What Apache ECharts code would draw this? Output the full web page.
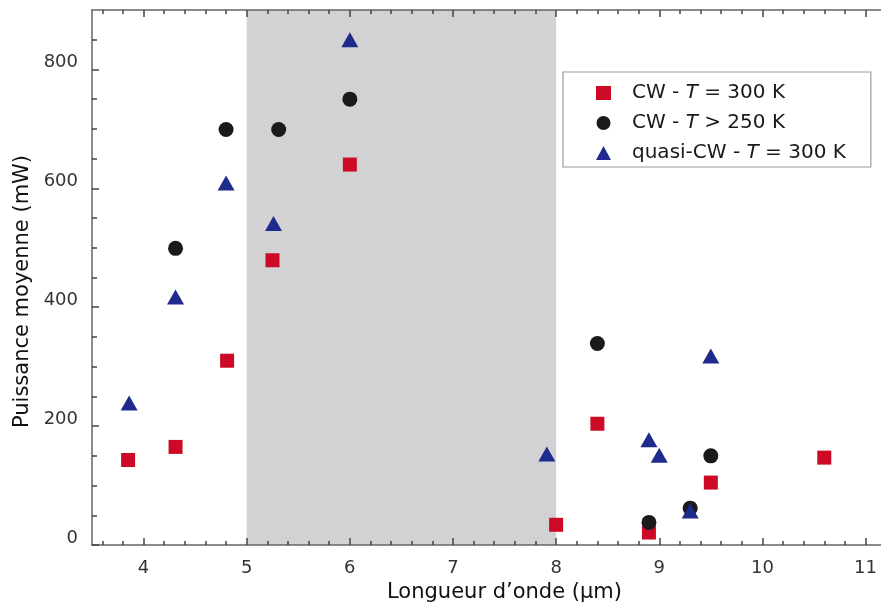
<!DOCTYPE html>
<html>
<head>
<meta charset="utf-8">
<script src="https://cdn.jsdelivr.net/npm/echarts@6/dist/echarts.min.js"></script>
<style>
  html, body { margin: 0; padding: 0; background: #ffffff; }
  #chart { width: 881px; height: 608px; }
</style>
</head>
<body>
<div id="chart"></div>
<script>
// ---- data ----
const seriesNames = ['CW - T = 300 K', 'CW - T > 250 K', 'quasi-CW - T = 300 K'];

const cw300X = [3.85, 4.31, 4.81, 5.25, 6.0, 8.0, 8.4, 8.9, 9.5, 10.6];
const cw300Y = [143, 165, 310, 479, 640, 34, 204, 21, 105, 147];

const cw250X = [4.31, 4.8, 5.31, 6.0, 8.4, 8.9, 9.3, 9.5];
const cw250Y = [499, 699, 699, 750, 339, 38, 62, 150];

const qcwX = [3.86, 4.31, 4.8, 5.26, 6.0, 7.91, 8.9, 9.0, 9.3, 9.5];
const qcwY = [239, 417, 609, 541, 850, 153, 177, 151, 57, 318];

const shadedRange = [5, 8];

const xMajorTicks = [4, 5, 6, 7, 8, 9, 10, 11];
const xMinorTicks = [3.6, 3.8, 4.2, 4.4, 4.6, 4.8, 5.2, 5.4, 5.6, 5.8, 6.2, 6.4, 6.6, 6.8,
  7.2, 7.4, 7.6, 7.8, 8.2, 8.4, 8.6, 8.8, 9.2, 9.4, 9.6, 9.8, 10.2, 10.4, 10.6, 10.8];
const yMajorTicks = [0, 200, 400, 600, 800];
const yMinorTicks = [50, 100, 150, 250, 300, 350, 450, 500, 550, 650, 700, 750, 850];

const xMin = 3.5, xMax = 11.15, yMin = 0, yMax = 900;

// ---- helpers ----
const zip = (xs, ys) => xs.map((x, i) => [x, ys[i]]);
const FONT = 'DejaVu Sans';
const axisColor = '#666666';

function xAxisDef(position, ticks, len, showLine, showLabels, extra) {
  return Object.assign({
    type: 'value', position: position, min: xMin, max: xMax, z: 10,
    axisLine: { show: showLine, onZero: false, lineStyle: { color: axisColor, width: 1.5 } },
    axisTick: { show: true, inside: true, length: len, customValues: ticks, lineStyle: { color: '#444', width: 1.5 } },
    axisLabel: showLabels ? {
      show: true, customValues: xMajorTicks, margin: 14,
      fontFamily: FONT, fontSize: 18, color: '#333'
    } : { show: false },
    splitLine: { show: false }
  }, extra || {});
}

function yAxisDef(ticks, len, showLine, showLabels, extra) {
  return Object.assign({
    type: 'value', position: 'left', min: yMin, max: yMax, z: 10,
    axisLine: { show: showLine, onZero: false, lineStyle: { color: axisColor, width: 1.5 } },
    axisTick: { show: true, inside: true, length: len, customValues: ticks, lineStyle: { color: '#444', width: 1.5 } },
    axisLabel: showLabels ? {
      show: true, customValues: yMajorTicks, margin: 14,
      fontFamily: FONT, fontSize: 18, color: '#333',
      verticalAlign: 'bottom', lineHeight: 14
    } : { show: false },
    splitLine: { show: false }
  }, extra || {});
}

const chart = echarts.init(document.getElementById('chart'), null, { renderer: 'canvas' });

const option = {
  animation: false,
  backgroundColor: '#ffffff',
  grid: { left: 92, top: 10, width: 795, height: 535, containLabel: false },
  xAxis: [
    xAxisDef('bottom', xMajorTicks, 7, true, true, {
      name: 'Longueur d\u2019onde (\u00b5m)', nameLocation: 'middle', nameGap: 37,
      nameTextStyle: { fontFamily: FONT, fontSize: 21, color: '#111', padding: [0, 0, 0, 36] }
    }),
    xAxisDef('bottom', xMinorTicks, 4, false, false),
    xAxisDef('top', xMajorTicks, 7, true, false),
    xAxisDef('top', xMinorTicks, 4, false, false)
  ],
  yAxis: [
    yAxisDef(yMajorTicks, 7, true, true, {
      name: 'Puissance moyenne (mW)', nameLocation: 'middle', nameGap: 59, nameRotate: 90,
      nameTextStyle: { fontFamily: FONT, fontSize: 21, color: '#111', padding: [0, 28, 0, 0] }
    }),
    yAxisDef(yMinorTicks, 5, false, false)
  ],
  legend: {
    data: seriesNames,
    orient: 'vertical', left: 563, top: 72,
    padding: [10, 25, 3, 33],
    itemGap: 8, itemWidth: 15, itemHeight: 14,
    borderColor: '#9a9a9a', borderWidth: 1.2, backgroundColor: '#ffffff',
    formatter: n => n.replace(' T ', ' {i|T} '),
    textStyle: {
      fontFamily: FONT, fontSize: 20, color: '#1a1a1a', lineHeight: 22, padding: [0, 0, 0, 16],
      rich: { i: { fontFamily: FONT, fontSize: 20, fontStyle: 'italic', color: '#1a1a1a', lineHeight: 22 } }
    }
  },
  series: [
    {
      type: 'scatter', name: '_shade', data: [], silent: true,
      markArea: {
        silent: true, z: 1,
        itemStyle: { color: '#d2d2d4', opacity: 1 },
        data: [[{ xAxis: shadedRange[0] }, { xAxis: shadedRange[1] }]]
      }
    },
    {
      type: 'scatter', name: seriesNames[0], z: 3,
      symbol: 'rect', symbolSize: 14,
      itemStyle: { color: '#cc0a26', opacity: 1 },
      data: zip(cw300X, cw300Y)
    },
    {
      type: 'scatter', name: seriesNames[1], z: 4,
      symbol: 'circle', symbolSize: 15,
      itemStyle: { color: '#1a1a1a', opacity: 1 },
      data: zip(cw250X, cw250Y)
    },
    {
      type: 'scatter', name: seriesNames[2], z: 5,
      symbol: 'triangle', symbolSize: [17, 15],
      itemStyle: { color: '#1e2a8c', opacity: 1 },
      data: zip(qcwX, qcwY)
    }
  ]
};

chart.setOption(option);
</script>
</body>
</html>
